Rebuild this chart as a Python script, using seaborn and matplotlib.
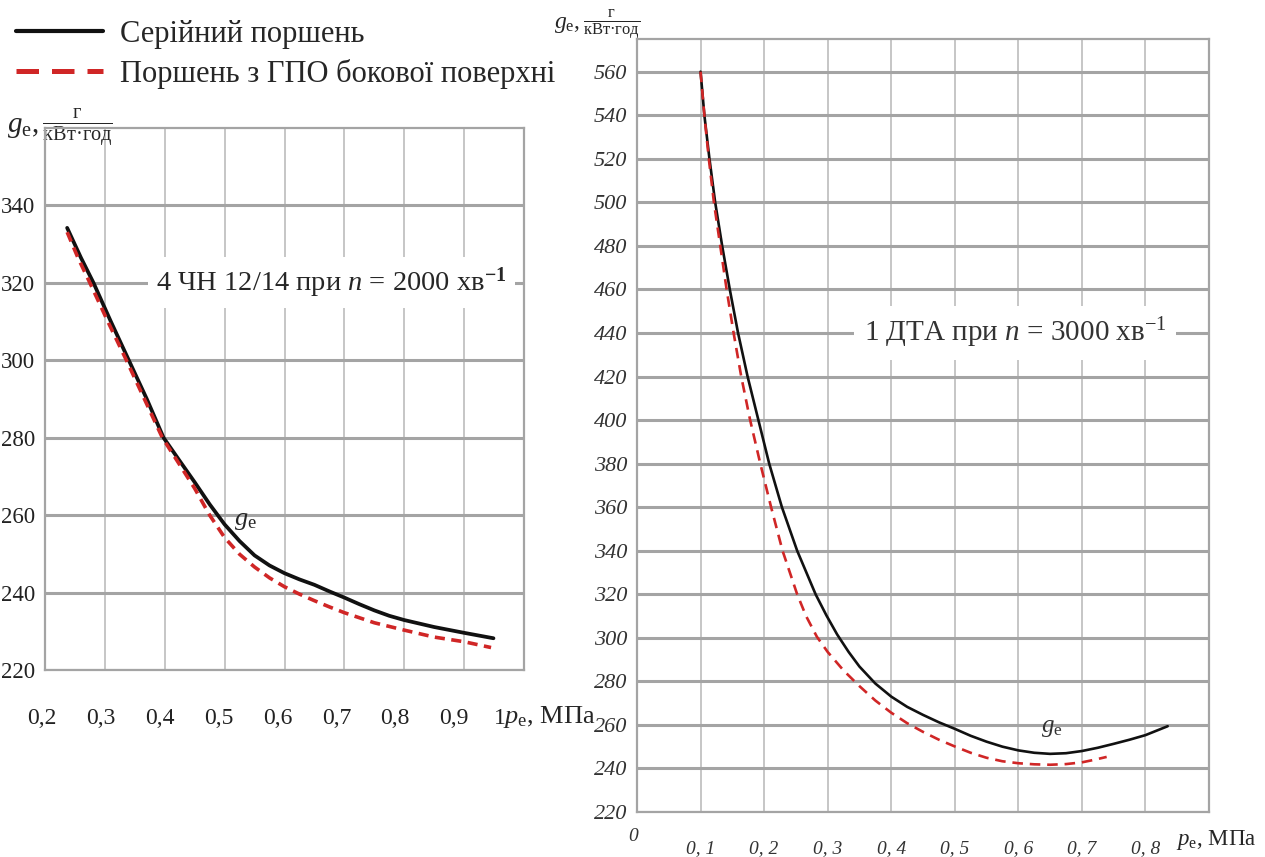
import matplotlib
matplotlib.use("Agg")
import matplotlib.pyplot as plt
import matplotlib.transforms as mtransforms
from matplotlib.lines import Line2D
import numpy as np
import pandas as pd
import seaborn as sns

# ---- data: specific fuel consumption g_e vs. mean effective pressure p_e ----
# 4 ЧН 12/14, n = 2000 min^-1
left_serial_pe = [0.237, 0.260, 0.281, 0.310, 0.340, 0.370, 0.398, 0.425, 0.45, 0.475, 0.50, 0.525,
                  0.55, 0.575, 0.60, 0.625, 0.65, 0.675, 0.70, 0.725, 0.75, 0.775, 0.80, 0.85, 0.90, 0.949]
left_serial_ge = [334.2, 326.5, 320.0, 310.0, 300.0, 290.0, 280.0, 274.0, 268.5, 262.8, 257.6, 253.3,
                  249.6, 247.0, 245.0, 243.4, 242.0, 240.3, 238.7, 237.0, 235.4, 234.0, 232.9, 231.1, 229.6, 228.2]
left_coated_pe = [0.237, 0.255, 0.275, 0.305, 0.336, 0.366, 0.396, 0.425, 0.45, 0.475, 0.50, 0.525,
                  0.55, 0.575, 0.60, 0.625, 0.65, 0.675, 0.70, 0.75, 0.80, 0.85, 0.90, 0.945]
left_coated_ge = [333.1, 326.5, 320.0, 310.0, 300.0, 290.0, 280.0, 273.0, 266.9, 260.0, 254.2, 249.9,
                  246.6, 243.8, 241.5, 239.6, 237.9, 236.3, 234.8, 232.2, 230.3, 228.5, 227.3, 225.8]

# 1 ДТА, n = 3000 min^-1
right_serial_pe = [0.100, 0.106, 0.114, 0.123, 0.134, 0.146, 0.159, 0.174, 0.191, 0.208, 0.228, 0.252,
                   0.281, 0.298, 0.315, 0.333, 0.350, 0.375, 0.40, 0.425, 0.45, 0.475, 0.50, 0.525, 0.55,
                   0.575, 0.60, 0.625, 0.65, 0.675, 0.70, 0.725, 0.75, 0.775, 0.80, 0.835]
right_serial_ge = [560, 540, 520, 500, 480, 460, 440, 420, 400, 380, 360, 340,
                   320, 310.3, 301.5, 293.5, 286.8, 279.0, 273.0, 268.3, 264.6, 261.2, 258.2, 255.0, 252.3,
                   250.0, 248.3, 247.2, 246.7, 247.0, 248.0, 249.5, 251.3, 253.2, 255.3, 259.4]
right_coated_pe = [0.100, 0.106, 0.113, 0.121, 0.131, 0.141, 0.152, 0.164, 0.178, 0.194, 0.211, 0.229,
                   0.252, 0.266, 0.283, 0.300, 0.325, 0.350, 0.375, 0.40, 0.425, 0.45, 0.475, 0.50, 0.525,
                   0.55, 0.575, 0.60, 0.625, 0.65, 0.675, 0.70, 0.72, 0.739]
right_coated_ge = [560, 540, 520, 500, 480, 460, 440, 420, 400, 380, 360, 340,
                   320, 310.0, 300.5, 293.5, 285.0, 277.8, 271.2, 265.6, 260.8, 256.8, 253.2, 250.1, 247.2,
                   244.9, 243.3, 242.4, 241.9, 241.7, 242.0, 242.8, 244.0, 245.3]

series_names = ["Серійний поршень", "Поршень з ГПО бокової поверхні"]

left_xticks = [0.2, 0.3, 0.4, 0.5, 0.6, 0.7, 0.8, 0.9, 1.0]
left_xtick_labels = ["0,2", "0,3", "0,4", "0,5", "0,6", "0,7", "0,8", "0,9", "1"]
left_yticks = [220, 240, 260, 280, 300, 320, 340]

right_xticks = [0.0, 0.1, 0.2, 0.3, 0.4, 0.5, 0.6, 0.7, 0.8]
right_xtick_labels = ["0", "0, 1", "0, 2", "0, 3", "0, 4", "0, 5", "0, 6", "0, 7", "0, 8"]
right_yticks = list(range(220, 561, 20))

left_title = r"4 ЧН 12/14 при $n$ = 2000 хв$^{\mathbf{-1}}$"
right_title = r"1 ДТА при $n$ = 3000 хв$^{-1}$"

# ---- style ----
sns.set_theme(style="white")
plt.rcParams["font.family"] = ["Liberation Serif", "DejaVu Serif"]
plt.rcParams["mathtext.fontset"] = "custom"
plt.rcParams["mathtext.rm"] = "Liberation Serif"
plt.rcParams["mathtext.it"] = "Liberation Serif:italic"
plt.rcParams["mathtext.bf"] = "Liberation Serif:bold"

BLACK = "#111111"
RED = "#d02626"
HGRID = "#a4a4a4"
VGRID = "#c6c6c6"

W, H = 1265, 857
fig = plt.figure(figsize=(W / 100, H / 100), dpi=100)

def px_axes(left, top, right, bottom):
    return fig.add_axes([left / W, 1 - bottom / H, (right - left) / W, (bottom - top) / H])

def shift(label, dx_px, dy_px):
    label.set_transform(label.get_transform() +
                        mtransforms.ScaledTranslation(dx_px / 100, dy_px / 100, fig.dpi_scale_trans))

ax1 = px_axes(45, 128, 524, 670)
ax2 = px_axes(637, 39, 1209, 812)

def frame(ax):
    ax.set_axisbelow(True)
    ax.yaxis.grid(True, color=HGRID, lw=2.2)
    ax.xaxis.grid(True, color=VGRID, lw=1.4)
    for s in ax.spines.values():
        s.set_color(HGRID)
        s.set_linewidth(1.6)

# ---- left panel ----
frame(ax1)
sns.lineplot(x=left_serial_pe, y=left_serial_ge, ax=ax1, color=BLACK, lw=2.7, sort=False)
sns.lineplot(x=left_coated_pe, y=left_coated_ge, ax=ax1, color=RED, lw=2.6, sort=False,
             linestyle=(0, (2.8, 1.8)))
ax1.set_xlim(0.2, 1.0)
ax1.set_ylim(220, 360)
ax1.set_xticks(left_xticks, labels=left_xtick_labels)
ax1.set_yticks(left_yticks)
ax1.tick_params(axis="x", length=10, width=1.4, color=VGRID, pad=17, labelsize=17, labelcolor="#222222")
ax1.tick_params(axis="y", length=5, width=2, color=HGRID, pad=2, labelsize=16.5, labelcolor="#222222")
# tick labels sit a little left of their grid lines; the last one hugs the axis title
for i, lab in enumerate(ax1.get_xticklabels()):
    shift(lab, -24 if i == len(left_xticks) - 1 else -3 - i, 0)
ax1.set_ylabel(r"$g_\mathrm{e}, \frac{\mathrm{г}}{\mathrm{кВт·год}}$", rotation=0, fontsize=21,
               ha="left", va="center")
ax1.yaxis.set_label_coords(-0.08, 1.0)
ax1.set_xlabel(r"$p_\mathrm{e}$, МПа", fontsize=19, ha="left", va="center")
ax1.xaxis.set_label_coords(0.957, -0.087)
ax1.text(0.678, 320, left_title, fontsize=20.5, ha="center", va="center",
         bbox=dict(facecolor="white", edgecolor="none", pad=6))
ax1.text(0.535, 258.5, r"$g_\mathrm{e}$", fontsize=19, ha="center", va="center")

# ---- right panel ----
frame(ax2)
sns.lineplot(x=right_serial_pe, y=right_serial_ge, ax=ax2, color=BLACK, lw=1.9, sort=False)
sns.lineplot(x=right_coated_pe, y=right_coated_ge, ax=ax2, color=RED, lw=1.9, sort=False,
             linestyle=(0, (4, 2.6)))
ax2.set_xlim(0.0, 0.9)
ax2.set_ylim(220, 575)
ax2.set_xticks(right_xticks, labels=right_xtick_labels)
ax2.set_yticks(right_yticks)
ax2.tick_params(axis="x", length=8, width=1.4, color=VGRID, pad=12, labelsize=14, labelcolor="#333333")
ax2.tick_params(axis="y", length=3, width=2, color=HGRID, pad=4, labelsize=16, labelcolor="#333333")
for lab in ax2.get_xticklabels() + ax2.get_yticklabels():
    lab.set_fontstyle("italic")
shift(ax2.get_xticklabels()[0], -4, 12)
ax2.set_ylabel(r"$g_\mathrm{e}, \frac{\mathrm{г}}{\mathrm{кВт·год}}$", rotation=0, fontsize=17,
               ha="left", va="center")
ax2.yaxis.set_label_coords(-0.145, 1.018)
ax2.set_xlabel(r"$p_\mathrm{e}$, МПа", fontsize=16.5, ha="left", va="center")
ax2.xaxis.set_label_coords(0.943, -0.036)
ax2.text(0.595, 440, right_title, fontsize=21, color="#333333", ha="center", va="center",
         bbox=dict(facecolor="white", edgecolor="none", pad=7))
ax2.text(0.652, 258.5, r"$g_\mathrm{e}$", fontsize=18, color="#333333", ha="center", va="center")

# ---- shared legend ----
handles = [Line2D([], [], color=BLACK, lw=3.0),
           Line2D([], [], color=RED, lw=3.6, linestyle=(0, (4.5, 2.6)))]
fig.legend(handles, series_names, loc="upper left", bbox_to_anchor=(16 / W, 1 - 20 / H),
           frameon=False, fontsize=22, handlelength=2.85, handletextpad=0.55,
           labelspacing=0.32, borderpad=0, borderaxespad=0)

fig.savefig("out.png", dpi=100)
